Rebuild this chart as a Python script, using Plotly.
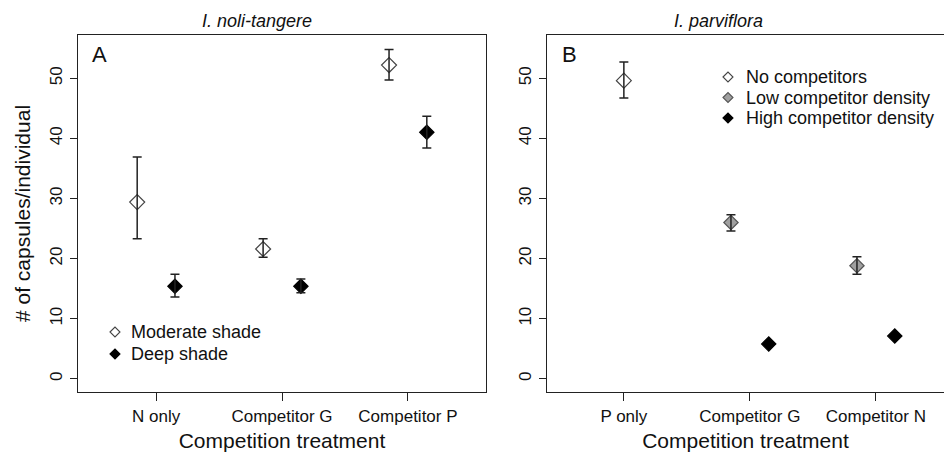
import plotly.graph_objects as go

# ---------------- data ----------------
treat_A = ["N only", "Competitor G", "Competitor P"]
mod_mean = [29.4, 21.6, 52.2]
mod_upper = [36.9, 23.3, 54.8]
mod_lower = [23.3, 20.2, 49.7]
deep_mean = [15.4, 15.4, 41.0]
deep_upper = [17.4, 16.6, 43.7]
deep_lower = [13.6, 14.3, 38.4]

treat_B = ["P only", "Competitor G", "Competitor N"]
none_treat = ["P only"]
none_mean = [49.6]
none_upper = [52.7]
none_lower = [46.7]
low_treat = ["Competitor G", "Competitor N"]
low_mean = [26.0, 18.8]
low_upper = [27.3, 20.3]
low_lower = [24.6, 17.4]
high_treat = ["Competitor G", "Competitor N"]
high_mean = [5.8, 7.1]

y_ticks = [0, 10, 20, 30, 40, 50]

# ---------------- style ----------------
W, H = 944, 453
FONT = "Liberation Sans, Arial, sans-serif"
DODGE = 0.15


def pos(cats, allcats, off):
    return [allcats.index(c) + 1 + off for c in cats]


def px_x(p):
    return p / W


def px_y(p):
    return 1 - p / H


fig = go.Figure()


def add_points(xa, ya, x, y, up, lo, symbol, fill, line, size):
    fig.add_trace(go.Scatter(
        x=x, y=y, mode="markers", xaxis=xa, yaxis=ya, showlegend=False,
        hoverinfo="skip",
        marker=dict(symbol=symbol, size=size, color=fill,
                    line=dict(color=line, width=1.2))))
    if up is not None:
        fig.add_trace(go.Scatter(
            x=x, y=y, mode="markers", xaxis=xa, yaxis=ya, showlegend=False,
            hoverinfo="skip", marker=dict(size=1, opacity=0),
            error_y=dict(type="data", symmetric=False,
                         array=[u - m for u, m in zip(up, y)],
                         arrayminus=[m - l for m, l in zip(y, lo)],
                         color="#222222", thickness=1.5, width=4.5)))


# Panel A
add_points("x", "y", pos(treat_A, treat_A, -DODGE), mod_mean, mod_upper, mod_lower,
           "diamond-open", "#444444", "#444444", 11.5)
add_points("x", "y", pos(treat_A, treat_A, DODGE), deep_mean, deep_upper, deep_lower,
           "diamond", "#000000", "#000000", 11)
# Panel B
add_points("x2", "y2", pos(none_treat, treat_B, 0), none_mean, none_upper, none_lower,
           "diamond-open", "#444444", "#444444", 11.5)
add_points("x2", "y2", pos(low_treat, treat_B, -DODGE), low_mean, low_upper, low_lower,
           "diamond", "#a0a0a0", "#555555", 11)
add_points("x2", "y2", pos(high_treat, treat_B, DODGE), high_mean, None, None,
           "diamond", "#000000", "#000000", 11)

axis_common = dict(showgrid=False, zeroline=False, showline=True, linecolor="#222222",
                   linewidth=1.2, ticks="outside", tickcolor="#222222", tickwidth=1.2,
                   tickfont=dict(family=FONT, size=17, color="#111111"),
                   automargin=False)

fig.update_layout(
    width=W, height=H, autosize=False,
    margin=dict(l=0, r=0, t=0, b=0),
    paper_bgcolor="white", plot_bgcolor="white",
    font=dict(family=FONT, color="#111111"),
    xaxis=dict(domain=[px_x(78), px_x(486)], range=[0.38, 3.62],
               tickvals=[1, 2, 3], ticktext=treat_A, ticklen=8, mirror=True,
               title=dict(text="Competition treatment", font=dict(size=21, family=FONT),
                          standoff=8),
               anchor="y", **axis_common),
    yaxis=dict(domain=[px_y(392), px_y(35)], range=[-2.2, 57.2],
               tickvals=y_ticks, ticklen=7, tickangle=-90, mirror=True,
               ticklabelstandoff=1,
               title=dict(text="# of capsules/individual", font=dict(size=21, family=FONT),
                          standoff=10),
               anchor="x", **axis_common),
    xaxis2=dict(domain=[px_x(547), 1.0], range=[0.39, 0.39 + (W - 547) / 126.0],
                tickvals=[1, 2, 3], ticktext=treat_B, ticklen=8, mirror=True,
                title=dict(text="Competition treatment", font=dict(size=21, family=FONT),
                           standoff=8),
                anchor="y2", **axis_common),
    yaxis2=dict(domain=[px_y(392), px_y(35)], range=[-2.2, 57.2],
                tickvals=y_ticks, ticklen=7, tickangle=-90, mirror=False,
                ticklabelstandoff=1,
                anchor="x2", **axis_common),
)

annotations = [
    dict(text="<i>I. noli-tangere</i>", x=px_x(257), y=px_y(21), size=18),
    dict(text="<i>I. parviflora</i>", x=px_x(718), y=px_y(21), size=18),
    dict(text="A", x=px_x(99), y=px_y(55), size=22),
    dict(text="B", x=px_x(569), y=px_y(55), size=22),
]
for a in annotations:
    fig.add_annotation(text=a["text"], x=a["x"], y=a["y"], xref="paper", yref="paper",
                       showarrow=False, xanchor="center", yanchor="middle",
                       font=dict(family=FONT, size=a["size"], color="#111111"))

# legends (text + glyphs)
legend_items = [
    ("Moderate shade", 115, 332, 129, "white", "#444444"),
    ("Deep shade", 115, 354, 129, "#000000", "#000000"),
    ("No competitors", 728, 77, 744, "white", "#444444"),
    ("Low competitor density", 728, 97.5, 744, "#a0a0a0", "#555555"),
    ("High competitor density", 728, 118, 744, "#000000", "#000000"),
]
for label, mx, my, tx, fill, line in legend_items:
    fig.add_annotation(text=label, x=px_x(tx), y=px_y(my), xref="paper", yref="paper",
                       showarrow=False, xanchor="left", yanchor="middle",
                       font=dict(family=FONT, size=18, color="#111111"))
    fig.add_shape(type="path", xref="paper", yref="paper",
                  xsizemode="pixel", ysizemode="pixel",
                  xanchor=px_x(mx), yanchor=px_y(my),
                  path="M -5 0 L 0 5 L 5 0 L 0 -5 Z",
                  fillcolor=fill, line=dict(color=line, width=1.1))

fig.write_html("out.html", config={"displayModeBar": False},
               post_script="document.body.style.margin='0';")
